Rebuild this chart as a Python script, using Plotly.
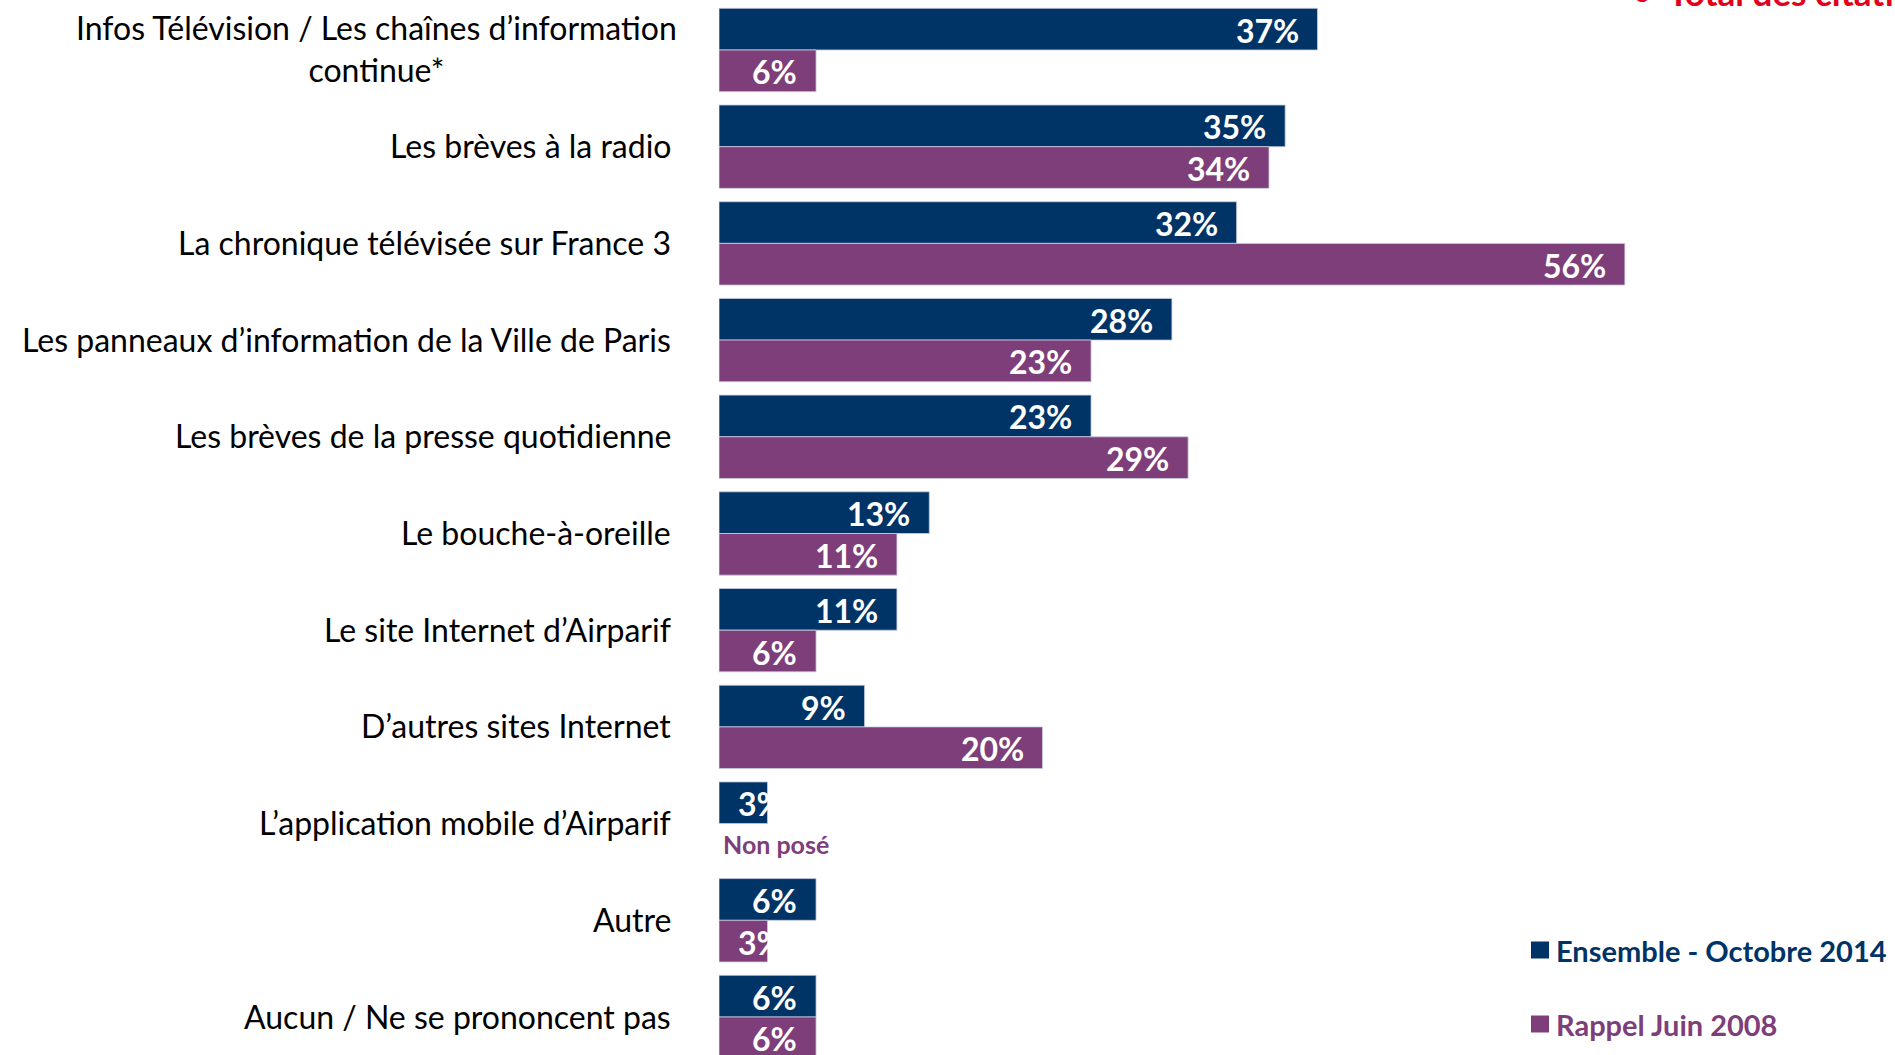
import plotly.graph_objects as go

# Sources d'information sur la qualité de l'air (total des citations)
categories = [
    "Infos Télévision / Les chaînes d’information<br>continue*",
    "Les brèves à la radio",
    "La chronique télévisée sur France 3",
    "Les panneaux d’information de la Ville de Paris",
    "Les brèves de la presse quotidienne",
    "Le bouche-à-oreille",
    "Le site Internet d’Airparif",
    "D’autres sites Internet",
    "L’application mobile d’Airparif",
    "Autre",
    "Aucun / Ne se prononcent pas",
]
oct_2014 = [37, 35, 32, 28, 23, 13, 11, 9, 3, 6, 6]
juin_2008 = [6, 34, 56, 23, 29, 11, 6, 20, None, 3, 6]
series_names = ["Ensemble - Octobre 2014", "Rappel Juin 2008"]
not_asked_label = "Non posé"
header_text = "Total des citations"

BLUE = "#003366"
PURPLE = "#7D3E7A"
RED = "#E2001A"
FONT = "Lato"

W, H = 1895, 1055
LEFT = 719
BARGAP = 0.138
X_MAX = 72.7
Y_RANGE = [10.393, -0.517]

fig = go.Figure()
for name, vals, col in [(series_names[0], oct_2014, BLUE), (series_names[1], juin_2008, PURPLE)]:
    fig.add_trace(go.Bar(
        name=name,
        y=list(range(len(categories))),
        x=vals,
        orientation="h",
        marker=dict(color=col, line=dict(color="rgba(200,205,225,0.8)", width=1)),
        hoverinfo="x+name",
    ))

annotations = []
half = (1 - BARGAP) / 4  # offset of each bar from the group centre

# category labels
for i, cat in enumerate(categories):
    multi = "<br>" in cat
    annotations.append(dict(
        xref="paper", yref="y", x=0, y=i, text=cat,
        xanchor="right", yanchor="middle", align="center",
        xshift=-40 if multi else -46, yshift=1, showarrow=False,
        font=dict(family=FONT, size=32, color="#000000"),
    ))

# value labels inside the bar ends
px_per_unit = (W - LEFT) / X_MAX
for vals, off in [(oct_2014, -half), (juin_2008, half)]:
    for i, v in enumerate(vals):
        if v is None:
            continue
        txt = f"{v}%"
        fits = v * px_per_unit > 80
        annotations.append(dict(
            xref="x", yref="y", x=v if fits else 0, y=i + off, text=f"<b>{txt}</b>",
            xanchor="right" if fits else "left", yanchor="middle",
            xshift=-17 if fits else 17, yshift=-1, showarrow=False,
            font=dict(family=FONT, size=32, color="#FFFFFF"),
        ))
    for i, v in enumerate(vals):
        if v is None:
            annotations.append(dict(
                xref="x", yref="y", x=0, y=i + off, text=f"<b>{not_asked_label}</b>",
                xanchor="left", yanchor="middle", xshift=2, showarrow=False,
                font=dict(family=FONT, size=25, color=PURPLE),
            ))

def px_x(p):
    return (p - LEFT) / (W - LEFT)

def px_y(p):
    return 1 - p / H

# legend
shapes = []
for name, col, cy in [(series_names[0], BLUE, 950), (series_names[1], PURPLE, 1024)]:
    shapes.append(dict(type="rect", xref="paper", yref="paper",
                       x0=px_x(1531), x1=px_x(1549), y0=px_y(cy + 8.5), y1=px_y(cy - 8.5),
                       fillcolor=col, line=dict(width=0)))
    annotations.append(dict(
        xref="paper", yref="paper", x=px_x(1554), y=px_y(cy), text=f"<b>{name}</b>",
        xanchor="left", yanchor="middle", showarrow=False,
        font=dict(family=FONT, size=29, color=col),
    ))

# header (runs off the top edge)
annotations.append(dict(
    xref="paper", yref="paper", x=px_x(1630), y=1, text="<b>•</b>",
    xanchor="left", yanchor="bottom", yshift=-14, showarrow=False,
    font=dict(family=FONT, size=35, color=RED),
))
annotations.append(dict(
    xref="paper", yref="paper", x=px_x(1666), y=1, text=f"<b>{header_text}</b>",
    xanchor="left", yanchor="bottom", yshift=-15, showarrow=False,
    font=dict(family=FONT, size=35, color=RED),
))

fig.update_layout(
    width=W, height=H,
    margin=dict(l=LEFT, r=0, t=0, b=0),
    paper_bgcolor="white", plot_bgcolor="white",
    barmode="group", bargap=BARGAP, bargroupgap=0,
    showlegend=False,
    xaxis=dict(range=[0, X_MAX], visible=False, fixedrange=True),
    yaxis=dict(range=Y_RANGE, visible=False, fixedrange=True),
    annotations=annotations,
    shapes=shapes,
    font=dict(family=FONT),
)

fig.write_html("out.html", config={"displayModeBar": False})
